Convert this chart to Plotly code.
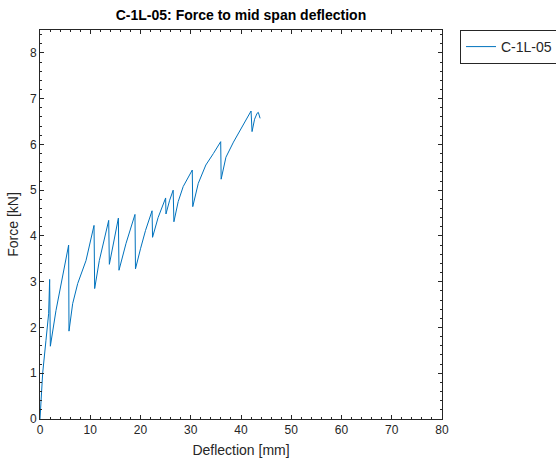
import plotly.graph_objects as go

# Deflection [mm] and Force [kN]
deflection = [0.0, 0.53, 1.19, 1.72, 1.92, 2.06, 3.18, 4.5, 5.7, 5.77,
              6.5, 7.5, 9.15, 10.75, 10.88, 11.8, 12.8, 13.67, 13.8,
              14.8, 15.6, 15.72, 17.1, 18.9, 19.0, 20.0, 21.0, 22.3, 22.4,
              23.5, 25.0, 25.07, 25.8, 26.5, 26.65, 27.5, 28.5, 30.3, 30.4,
              31.5, 33.0, 34.5, 35.96, 36.05, 37.0, 38.5, 40.0, 42.0, 42.2,
              42.7, 43.2, 43.45, 43.8]
force = [0.0, 1.0, 1.72, 2.3, 3.05, 1.59, 2.37, 3.1, 3.8, 1.92,
         2.52, 2.96, 3.46, 4.23, 2.85, 3.46, 3.97, 4.34, 3.38,
         3.97, 4.39, 3.25, 3.83, 4.47, 3.28, 3.72, 4.12, 4.55, 3.97,
         4.4, 4.83, 4.48, 4.78, 5.0, 4.31, 4.75, 5.08, 5.44, 4.64,
         5.15, 5.55, 5.8, 6.06, 5.24, 5.72, 6.05, 6.35, 6.73, 6.28,
         6.55, 6.68, 6.70, 6.57]

x_ticks = [0, 10, 20, 30, 40, 50, 60, 70, 80]
y_ticks = [0, 1, 2, 3, 4, 5, 6, 7, 8]

axis_col = "#262626"
font_fam = "Liberation Sans, Arial, sans-serif"

fig = go.Figure()
fig.add_trace(go.Scatter(x=deflection, y=force, mode="lines", name="C-1L-05",
                         line=dict(color="#0072BD", width=1)))

common = dict(showgrid=False, zeroline=False, showline=True, linecolor=axis_col,
              linewidth=1, mirror="allticks", ticks="inside", ticklen=4,
              tickcolor=axis_col, tickwidth=1,
              tickfont=dict(family=font_fam, size=12, color=axis_col))

fig.update_layout(
    width=556, height=459,
    margin=dict(l=40, r=114, t=30, b=40, autoexpand=False),
    paper_bgcolor="white", plot_bgcolor="white",
    title=dict(text="<b>C-1L-05: Force to mid span deflection</b>",
               x=241 / 556, xanchor="center", y=1 - 15 / 459, yanchor="middle",
               font=dict(family=font_fam, size=14, color="black")),
    xaxis=dict(range=[0, 80], tickvals=x_ticks,
               title=dict(text="Deflection [mm]", standoff=8,
                          font=dict(family=font_fam, size=14, color=axis_col)),
               minor=dict(ticks="inside", ticklen=2, dtick=2, tickcolor=axis_col),
               **common),
    yaxis=dict(range=[0, 8.5], tickvals=y_ticks,
               title=dict(text="Force [kN]", standoff=8,
                          font=dict(family=font_fam, size=14, color=axis_col)),
               minor=dict(ticks="inside", ticklen=2, dtick=0.2, tickcolor=axis_col),
               **common),
    legend=dict(x=(460 - 40) / 402, xanchor="left", y=1.0, yanchor="top",
                bgcolor="white", bordercolor=axis_col, borderwidth=1,
                font=dict(family=font_fam, size=14, color=axis_col),
                tracegroupgap=0),
    showlegend=True,
)

fig.write_html("out.html")
